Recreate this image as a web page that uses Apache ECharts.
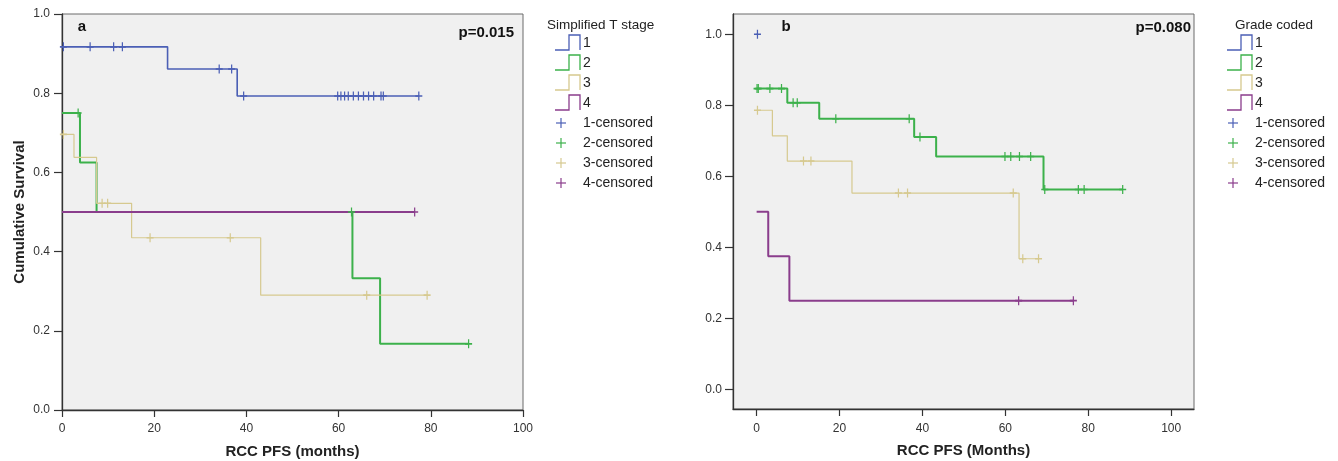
<!DOCTYPE html>
<html><head><meta charset="utf-8">
<script src="https://cdn.jsdelivr.net/npm/echarts@6/dist/echarts.min.js"></script>
<style>html,body{margin:0;padding:0;background:#fff}#c{width:1338px;height:461px}</style>
</head><body><div id="c"></div>
<script>
// ---- axis ticks ----
const xTicks = [0, 20, 40, 60, 80, 100];
const yTicks = [0, 0.2, 0.4, 0.6, 0.8, 1.0];

// ---- labels ----
const groupLabels = ['1', '2', '3', '4'];
const censLabels = ['1-censored', '2-censored', '3-censored', '4-censored'];
const colors = ['#4b5fb5', '#3cb14b', '#d6c98f', '#8a3d8c'];

// ---- Panel a : Simplified T stage ----
const a1Times = [0, 22.9, 38.0];
const a1Surv = [0.917, 0.861, 0.793];
const a1End = 77.4;
const a1Cens = [0.3, 6.1, 11.2, 13.1, 34.1, 36.8, 39.4, 59.8, 60.5, 61.3, 62.1, 63.2, 64.3, 65.4, 66.5, 67.6, 69.2, 69.7, 77.4];

const a2Times = [0, 3.9, 7.5, 63.0, 69.0];
const a2Surv = [0.75, 0.625, 0.5, 0.333, 0.167];
const a2End = 88.2;
const a2Cens = [3.5, 62.8, 88.2];

const a3Times = [0, 2.6, 7.5, 15.1, 43.1];
const a3Surv = [0.696, 0.638, 0.522, 0.435, 0.29];
const a3End = 79.2;
const a3Cens = [0.3, 8.7, 9.9, 19.1, 36.5, 66.1, 79.2];

const a4Times = [0];
const a4Surv = [0.5];
const a4End = 76.5;
const a4Cens = [76.5];

// ---- Panel b : Grade coded ----
const b1Times = [0];
const b1Surv = [1.0];
const b1End = 0.2;
const b1Cens = [0.2];

const b2Times = [0, 7.4, 15.1, 38.0, 43.3, 69.2];
const b2Surv = [0.847, 0.807, 0.762, 0.711, 0.656, 0.563];
const b2End = 88.3;
const b2Cens = [0.1, 0.4, 3.2, 6.0, 8.8, 9.8, 19.1, 36.8, 39.4, 59.9, 61.3, 63.4, 66.1, 69.5, 77.6, 79.0, 88.3];

const b3Times = [0, 3.8, 7.4, 23.0, 63.3];
const b3Surv = [0.786, 0.714, 0.643, 0.553, 0.368];
const b3End = 68.0;
const b3Cens = [0.2, 11.3, 13.1, 34.2, 36.4, 61.9, 64.2, 68.0];

const b4Times = [0, 2.8, 7.9];
const b4Surv = [0.5, 0.375, 0.25];
const b4End = 76.4;
const b4Cens = [63.2, 76.4];

// ---- helpers ----
const FONT = "'Liberation Sans', Arial, sans-serif";
const PLUS = 'path://M3.3,0H4.7V3.3H8V4.7H4.7V8H3.3V4.7H0V3.3H3.3Z';
const widths = [1.6, 2, 1.2, 2];

function stepData(times, surv, end) {
  const d = times.map((t, i) => [t, surv[i]]);
  d.push([end, surv[surv.length - 1]]);
  return d;
}
function levelAt(times, surv, t) {
  let s = surv[0];
  for (let i = 0; i < times.length; i++) if (times[i] <= t) s = surv[i];
  return s;
}
function curveSeries(idx, times, surv, end, cens, ci) {
  return [
    {
      type: 'line', step: 'end', xAxisIndex: idx, yAxisIndex: idx,
      data: stepData(times, surv, end), showSymbol: false, silent: true,
      lineStyle: { color: colors[ci], width: widths[ci] }, z: 2 + ci
    },
    {
      type: 'scatter', xAxisIndex: idx, yAxisIndex: idx, silent: true,
      data: cens.map(t => [t, levelAt(times, surv, t)]),
      symbol: PLUS, symbolSize: [7, 9],
      itemStyle: { color: colors[ci], opacity: 1 }, z: 6 + ci
    }
  ];
}

const panelA = [
  [a1Times, a1Surv, a1End, a1Cens], [a2Times, a2Surv, a2End, a2Cens],
  [a3Times, a3Surv, a3End, a3Cens], [a4Times, a4Surv, a4End, a4Cens]
];
const panelB = [
  [b1Times, b1Surv, b1End, b1Cens], [b2Times, b2Surv, b2End, b2Cens],
  [b3Times, b3Surv, b3End, b3Cens], [b4Times, b4Surv, b4End, b4Cens]
];

let series = [];
panelA.forEach((c, i) => { series = series.concat(curveSeries(0, c[0], c[1], c[2], c[3], i)); });
panelB.forEach((c, i) => { series = series.concat(curveSeries(1, c[0], c[1], c[2], c[3], i)); });

function legendGraphics(title, x0, y0, titleX) {
  const g = [];
  g.push({ type: 'text', x: titleX, y: y0, style: { text: title, font: '13.5px ' + FONT, fill: '#222', verticalAlign: 'middle' } });
  groupLabels.forEach((lab, i) => {
    const cy = y0 + 18 + i * 20;
    g.push({ type: 'polyline', shape: { points: [[x0, cy + 7], [x0 + 14, cy + 7], [x0 + 14, cy - 8], [x0 + 25, cy - 8], [x0 + 25, cy + 7]] },
      style: { stroke: colors[i], fill: null, lineWidth: 1.3 } });
    g.push({ type: 'text', x: x0 + 28, y: cy, style: { text: lab, font: '14px ' + FONT, fill: '#222', verticalAlign: 'middle' } });
  });
  censLabels.forEach((lab, i) => {
    const cy = y0 + 98 + i * 20;
    const cx = x0 + 6;
    g.push({ type: 'polyline', shape: { points: [[cx - 5, cy], [cx + 5, cy]] }, style: { stroke: colors[i], lineWidth: 1.2 } });
    g.push({ type: 'polyline', shape: { points: [[cx, cy - 5], [cx, cy + 5]] }, style: { stroke: colors[i], lineWidth: 1.2 } });
    g.push({ type: 'text', x: x0 + 28, y: cy, style: { text: lab, font: '14px ' + FONT, fill: '#222', verticalAlign: 'middle' } });
  });
  return g;
}

const axisCommon = {
  axisLine: { show: true, onZero: false, lineStyle: { color: '#333', width: 1.3 } },
  axisTick: { show: true, inside: false, length: 8, lineStyle: { color: '#333', width: 1.2 } },
  splitLine: { show: false },
  nameTextStyle: { fontFamily: FONT, fontWeight: 'bold', fontSize: 15, color: '#222' }
};
const labelStyle = { fontFamily: FONT, fontSize: 12, color: '#333' };

const option = {
  animation: false,
  backgroundColor: '#ffffff',
  grid: [
    { left: 62, top: 14, width: 461, height: 396, containLabel: false, outerBoundsMode: 'none', show: true, backgroundColor: '#f0f0f0', borderColor: '#6a6a6a', borderWidth: 1 },
    { left: 733, top: 14, width: 461, height: 395, containLabel: false, outerBoundsMode: 'none', show: true, backgroundColor: '#f0f0f0', borderColor: '#6a6a6a', borderWidth: 1 }
  ],
  xAxis: [
    Object.assign({}, axisCommon, {
      type: 'value', gridIndex: 0, min: 0, max: 100, interval: 20,
      axisTick: Object.assign({}, axisCommon.axisTick, { length: 7 }),
      axisLabel: Object.assign({ margin: 13 }, labelStyle),
      name: 'RCC PFS (months)', nameLocation: 'middle', nameGap: 34
    }),
    Object.assign({}, axisCommon, {
      type: 'value', gridIndex: 1, min: -5.7, max: 105.5,
      axisTick: Object.assign({}, axisCommon.axisTick, { length: 7, customValues: xTicks }),
      axisLabel: Object.assign({ margin: 14, customValues: xTicks }, labelStyle),
      name: 'RCC PFS (Months)', nameLocation: 'middle', nameGap: 34
    })
  ],
  yAxis: [
    Object.assign({}, axisCommon, {
      type: 'value', gridIndex: 0, min: 0, max: 1, interval: 0.2,
      axisLabel: Object.assign({ margin: 12, formatter: v => v.toFixed(1) }, labelStyle),
      name: 'Cumulative Survival', nameLocation: 'middle', nameGap: 35, nameRotate: 90
    }),
    Object.assign({}, axisCommon, {
      type: 'value', gridIndex: 1, min: -0.055, max: 1.057,
      axisTick: Object.assign({}, axisCommon.axisTick, { customValues: yTicks }),
      axisLabel: Object.assign({ margin: 11, customValues: yTicks, formatter: v => v.toFixed(1) }, labelStyle)
    })
  ],
  series: series,
  graphic: [
    { type: 'text', x: 82, y: 27, style: { text: 'a', font: 'bold 15px ' + FONT, fill: '#111', align: 'center', verticalAlign: 'middle' }, z: 20 },
    { type: 'text', x: 514, y: 33, style: { text: 'p=0.015', font: 'bold 15px ' + FONT, fill: '#111', align: 'right', verticalAlign: 'middle' }, z: 20 },
    { type: 'text', x: 786, y: 27, style: { text: 'b', font: 'bold 15px ' + FONT, fill: '#111', align: 'center', verticalAlign: 'middle' }, z: 20 },
    { type: 'text', x: 1191, y: 28, style: { text: 'p=0.080', font: 'bold 15px ' + FONT, fill: '#111', align: 'right', verticalAlign: 'middle' }, z: 20 }
  ].concat(legendGraphics('Simplified T stage', 555, 25, 547))
   .concat(legendGraphics('Grade coded', 1227, 25, 1235))
};

const chart = echarts.init(document.getElementById('c'), null, { renderer: 'canvas' });
chart.setOption(option);
</script>
</body></html>
